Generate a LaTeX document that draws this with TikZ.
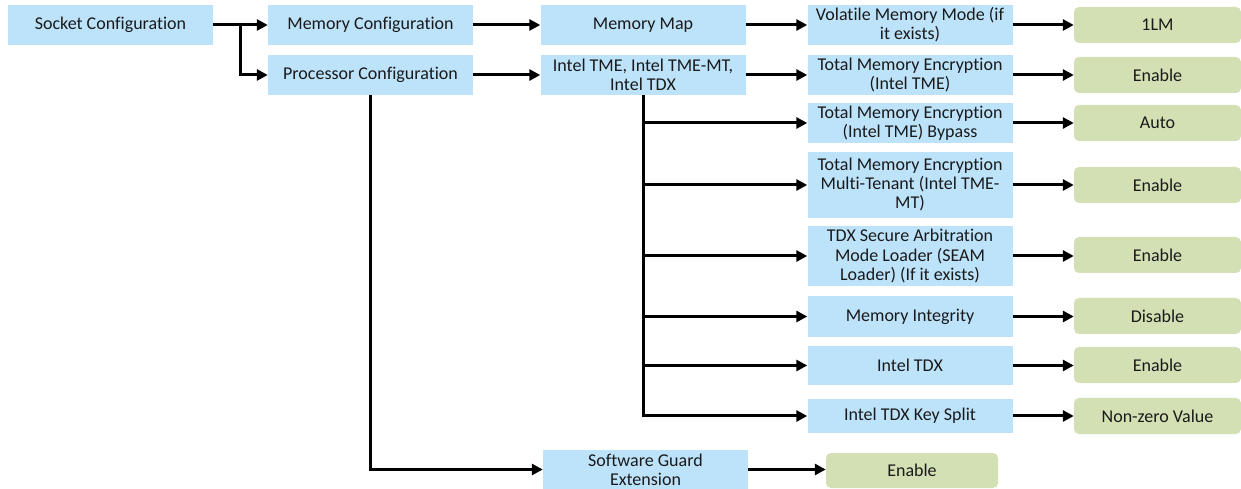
\documentclass[tikz,border=0pt]{standalone}
\usepackage{fontspec}
\setmainfont{Carlito}[Ligatures=NoCommon]
\usetikzlibrary{arrows.meta}
\definecolor{bluebox}{HTML}{BDE3FB}
\definecolor{greenbox}{HTML}{D3E0B4}
\definecolor{txt}{HTML}{1A1A1A}
\begin{document}
\begin{tikzpicture}[x=1bp,y=-1bp,
  bbox/.style={fill=bluebox, minimum width=205bp, inner sep=0pt, align=center, text=txt,
    font=\fontsize{18bp}{19bp}\selectfont},
  gbox/.style={fill=greenbox, rounded corners=5bp, minimum width=167bp, minimum height=36bp,
    inner sep=0pt, align=center, text=txt, font=\fontsize{18bp}{19bp}\selectfont},
  conn/.style={line width=3bp, draw=black},
  arr/.style={conn, -{Triangle[length=11bp,width=11bp]}}]
\useasboundingbox (0,0) rectangle (1241,489);
% blue boxes
\node[bbox, minimum height=40bp] (sock) at (110.5,25) {Socket Configuration};
\node[bbox, minimum height=40bp] (memc) at (370.5,25) {Memory Configuration};
\node[bbox, minimum height=40bp] (proc) at (370.5,75) {Processor Configuration};
\node[bbox, minimum height=40bp] (mmap) at (643,25) {Memory Map};
\node[bbox, minimum height=40bp] (itme) at (643,75) {Intel TME, Intel TME-MT,\\Intel TDX};
\node[bbox, minimum height=40bp] (vol) at (910,25) {Volatile Memory Mode (if\\it exists)};
\node[bbox, minimum height=40bp] (tme) at (910,75) {Total Memory Encryption\\(Intel TME)};
\node[bbox, minimum height=40bp] (byp) at (910,123) {Total Memory Encryption\\(Intel TME) Bypass};
\node[bbox, minimum height=66bp] (mt) at (910,185) {Total Memory Encryption\\Multi-Tenant (Intel TME-\\MT)};
\node[bbox, minimum height=60bp] (seam) at (910,256) {TDX Secure Arbitration\\Mode Loader (SEAM\\Loader) (If it exists)};
\node[bbox, minimum height=41bp] (mi) at (910,316.5) {Memory Integrity};
\node[bbox, minimum height=39bp] (tdx) at (910,365.5) {Intel TDX};
\node[bbox, minimum height=34bp] (ks) at (910,416) {Intel TDX Key Split};
\node[bbox, minimum height=39bp] (sgx) at (645.5,469.5) {Software Guard\\Extension};
% green boxes
\node[gbox] (g1) at (1157.5,25) {1LM};
\node[gbox] (g2) at (1157.5,75) {Enable};
\node[gbox] (g3) at (1157.5,123) {Auto};
\node[gbox] (g4) at (1157.5,185) {Enable};
\node[gbox] (g5) at (1157.5,255) {Enable};
\node[gbox] (g6) at (1157.5,316) {Disable};
\node[gbox] (g7) at (1157.5,365) {Enable};
\node[gbox] (g8) at (1157.5,416) {Non-zero Value};
\node[gbox, minimum width=172bp, minimum height=35bp] (g9) at (912,470.5) {Enable};
% connectors
\coordinate (j1) at (240,25);
\draw[arr] (sock.east) -- (memc.west);
\draw[arr] (j1) |- (proc.west);
\draw[arr] (memc.east) -- (mmap.west);
\draw[arr] (proc.east) -- (itme.west);
\draw[arr] (mmap.east) -- (vol.west);
\draw[arr] (itme.east) -- (tme.west);
\draw[arr] (itme.south) |- (ks.west);
\foreach \n in {byp,mt,seam,mi,tdx}{
  \draw[arr] (itme.south |- \n.west) -- (\n.west);
}
\draw[arr] (proc.south) |- (sgx.west);
\draw[arr] (sgx.east) -- (sgx.east -| g9.west);
\draw[arr] (vol.east) -- (g1.west);
\draw[arr] (tme.east) -- (g2.west);
\draw[arr] (byp.east) -- (g3.west);
\draw[arr] (mt.east) -- (g4.west);
\draw[arr] (seam.east) -- (seam.east -| g5.west);
\draw[arr] (mi.east) -- (mi.east -| g6.west);
\draw[arr] (tdx.east) -- (tdx.east -| g7.west);
\draw[arr] (ks.east) -- (g8.west);
\end{tikzpicture}
\end{document}
